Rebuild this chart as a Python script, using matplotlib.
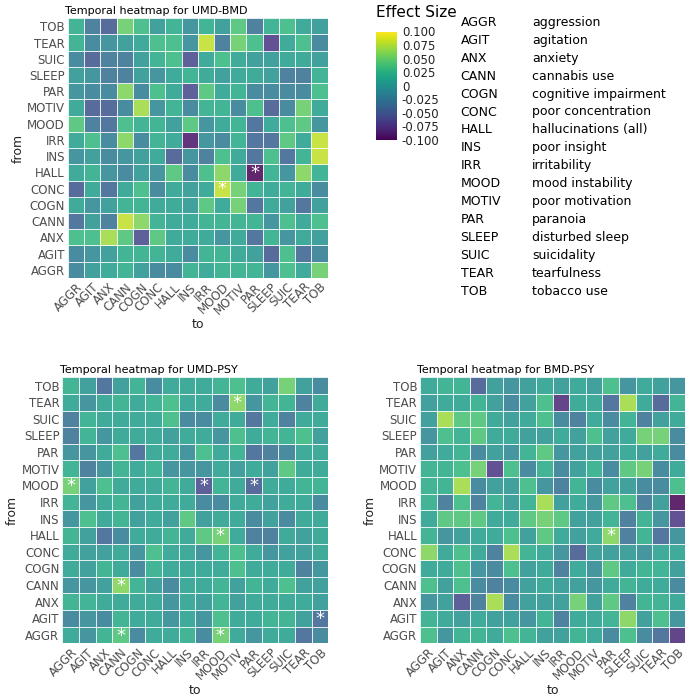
import numpy as np
import matplotlib
matplotlib.use("Agg")
import matplotlib.pyplot as plt
from matplotlib.colors import Normalize

labels = ["AGGR","AGIT","ANX","CANN","COGN","CONC","HALL","INS","IRR","MOOD","MOTIV","PAR","SLEEP","SUIC","TEAR","TOB"]
full_names = ["aggression","agitation","anxiety","cannabis use","cognitive impairment","poor concentration",
              "hallucinations (all)","poor insight","irritability","mood instability","poor motivation",
              "paranoia","disturbed sleep","suicidality","tearfulness","tobacco use"]

# rows listed top (TOB) to bottom (AGGR); columns AGGR..TOB
umd_bmd = [
 [.02,-.03,-.05,.05,.03,0,.02,-.01,.02,0,.04,-.03,.02,.03,.01,0],
 [.02,-.02,-.01,0,.01,.03,.03,-.01,.08,-.03,.05,.03,-.07,.01,.03,-.02],
 [-.02,-.05,-.03,-.03,0,.02,.03,-.06,.01,.03,.01,0,0,.01,.01,0],
 [0,-.01,-.03,-.03,0,-.01,.01,.02,.01,0,.01,.01,0,-.03,-.03,.02],
 [-.01,-.02,-.02,.06,-.02,.03,.01,-.06,.04,.01,.02,-.02,-.02,-.02,-.02,.03],
 [.01,-.05,-.05,-.02,.07,-.01,.02,-.02,.02,.02,-.02,.03,-.05,-.02,.05,.01],
 [.04,-.03,-.04,.03,.02,.02,0,.04,-.01,.01,.02,-.04,.01,.03,.04,-.01],
 [.01,.03,-.02,.06,-.02,.02,.01,-.09,-.01,-.02,.02,-.04,-.04,.04,.01,.08],
 [-.01,0,-.02,-.01,0,.01,-.05,-.01,-.03,.03,.01,-.04,.03,-.04,.02,.08],
 [.01,.02,-.01,-.02,0,-.01,.04,-.02,.03,.06,.01,-.11,.02,-.01,.06,.02],
 [-.05,.01,-.04,.01,.03,-.02,.01,0,.01,.08,.05,.02,.01,.02,.01,-.02],
 [.01,-.01,0,.02,.02,.01,.01,0,.04,.01,.05,-.04,.01,0,-.04,0],
 [-.04,0,-.03,.08,.06,.02,.01,.01,.02,.02,.02,.02,-.01,.03,.01,.03],
 [.03,.03,.07,.04,-.06,.04,.01,.01,.01,-.01,.01,-.04,.02,-.01,.01,0],
 [-.02,-.01,0,.02,.02,.02,.01,-.02,.02,.02,.01,0,-.05,.03,-.04,-.02],
 [-.02,0,.01,.02,0,-.02,-.02,.02,.01,.02,.02,.02,-.01,.03,.01,.05],
]
umd_bmd_sig = [("HALL","PAR"),("CONC","MOOD")]

umd_psy = [
 [.02,0,-.04,0,.02,-.02,.01,.01,.01,.02,.03,.01,0,.05,0,-.02],
 [.01,-.01,.01,.02,.01,.02,.03,.01,.01,-.02,.06,-.01,.02,.02,-.03,.01],
 [-.03,.02,.01,.01,.01,.01,.03,-.02,-.02,.01,.01,-.04,.01,-.03,.01,.01],
 [-.03,.02,-.01,.01,.01,.01,0,.01,.01,-.01,.03,.01,.02,.02,.03,0],
 [-.01,-.01,.01,.03,-.04,.01,.01,-.01,.03,.01,.02,-.04,-.03,-.02,.01,.01],
 [.02,-.03,-.01,.02,.01,.02,-.01,-.01,-.01,.01,0,.01,0,.04,.01,.01],
 [.05,0,.03,.01,.01,.01,.02,.01,-.06,.02,.01,-.05,.01,.01,.02,.02],
 [.02,-.01,.01,.02,0,.01,.01,.01,-.02,-.02,.01,.01,0,.01,.01,-.02],
 [-.01,.03,.01,.02,0,.01,0,.04,0,.01,.01,-.02,0,-.02,.01,.01],
 [.02,0,-.04,-.02,.01,.01,.02,.01,.04,.05,.01,-.03,-.03,.01,0,.01],
 [.01,0,0,.01,-.01,.03,.01,.01,-.01,.02,.03,.01,-.01,0,0,.01],
 [.01,0,.02,.01,-.02,.02,.01,.01,.01,.01,.03,.01,.01,.01,-.03,-.01],
 [-.01,-.01,0,.06,.02,0,-.02,.01,.01,.02,0,.02,.01,.03,0,0],
 [.02,.02,.01,.01,.01,.01,-.01,.01,0,.02,0,.01,.01,.01,.01,0],
 [-.02,-.01,-.02,.02,.01,.01,-.01,.01,-.01,.03,.01,.01,.02,.02,0,-.04],
 [.01,-.01,.02,.04,-.02,.01,.01,.02,-.02,.05,.01,-.01,.01,.01,-.04,-.02],
]
umd_psy_sig = [("TEAR","MOTIV"),("MOOD","AGGR"),("MOOD","IRR"),("MOOD","PAR"),("HALL","MOOD"),
               ("CANN","CANN"),("AGIT","TOB"),("AGGR","CANN"),("AGGR","MOOD")]

bmd_psy = [
 [.01,.02,.02,-.05,0,-.01,0,.01,0,.01,0,.03,-.01,.01,0,-.01],
 [0,.01,.01,.02,0,-.02,0,.03,-.08,.01,.01,-.04,.07,.01,-.05,.02],
 [0,.07,.04,.04,.01,0,.01,.03,-.02,-.03,.01,-.02,.02,-.03,0,.01],
 [-.01,.03,.02,.04,.01,.01,0,0,.01,0,.03,0,.01,.05,.05,-.02],
 [0,.01,.02,-.02,0,-.01,.02,.04,-.01,0,0,0,.01,0,.01,-.02],
 [.02,.02,.03,.05,-.07,.03,-.02,.02,-.02,0,.02,-.02,.04,.05,-.02,.01],
 [.02,.02,.07,-.02,0,0,.03,-.01,-.03,.02,-.02,0,0,-.02,-.02,.03],
 [.02,-.03,.03,-.03,.02,0,.02,.07,0,.01,-.01,.04,.03,-.03,0,-.1],
 [.01,.04,.04,.04,.01,.01,.04,.05,.04,0,0,.02,-.03,.02,-.01,-.07],
 [.02,-.01,0,.01,.01,.03,0,.04,.01,0,.01,.06,-.03,.02,-.04,-.01],
 [.06,.01,.03,.01,-.03,.07,.02,.01,-.01,-.05,0,0,0,-.01,.01,.01],
 [.01,.01,.03,-.01,-.02,.03,0,.01,-.03,.01,-.01,.04,.01,.02,.02,0],
 [.03,0,.03,-.02,-.03,-.02,0,.01,0,0,-.01,.01,.02,.01,.01,-.02],
 [-.01,0,-.06,-.03,.07,-.02,0,0,0,.05,0,.04,-.03,.02,.02,.01],
 [.02,.01,0,.01,0,0,-.01,.02,-.03,.01,.01,.02,.06,0,.03,-.01],
 [.03,-.01,.02,.02,.01,.03,.02,0,0,.02,.01,-.02,.03,-.02,-.04,-.08],
]
bmd_psy_sig = [("HALL","PAR")]

norm = Normalize(-0.1, 0.1)
cmap = plt.get_cmap("viridis")
fig = plt.figure(figsize=(7, 7), dpi=100)

def heat(rect, data, sig, title):
    ax = fig.add_axes(rect)
    arr = np.array(data)[::-1]  # row 0 = AGGR
    n = len(labels)
    ax.pcolormesh(np.arange(n + 1), np.arange(n + 1), arr, cmap=cmap, norm=norm,
                  alpha=0.85, edgecolor=(1, 1, 1, 0.35), linewidth=0.6)
    for fr, to in sig:
        ax.text(labels.index(to) + 0.5, labels.index(fr) + 0.45, "*", color="white",
                ha="center", va="center", fontsize=13)
    ax.set_xlim(0, n); ax.set_ylim(0, n)
    ax.set_xticks(np.arange(n) + 0.5)
    ax.set_xticklabels(labels, rotation=45, ha="right", rotation_mode="anchor")
    ax.set_yticks(np.arange(n) + 0.5)
    ax.set_yticklabels(labels)
    ax.tick_params(length=0, labelsize=8.5, labelcolor="#4d4d4d", pad=2)
    for s in ax.spines.values():
        s.set_visible(False)
    ax.set_xlabel("to", fontsize=9, color="#222222", labelpad=1)
    ax.set_ylabel("from", fontsize=9, color="#222222", labelpad=2)
    ax.set_title(title, fontsize=8, loc="left", pad=3, x=-0.01)
    return ax

heat([0.097, 0.603, 0.371, 0.371], umd_bmd, umd_bmd_sig, "Temporal heatmap for UMD-BMD")
heat([0.089, 0.081, 0.38, 0.38], umd_psy, umd_psy_sig, "Temporal heatmap for UMD-PSY")
heat([0.600, 0.081, 0.379, 0.38], bmd_psy, bmd_psy_sig, "Temporal heatmap for BMD-PSY")

cax = fig.add_axes([0.537, 0.80, 0.030, 0.155])
cb = fig.colorbar(plt.cm.ScalarMappable(norm=norm, cmap=cmap), cax=cax)
cb.set_ticks([0.1, 0.075, 0.05, 0.025, 0, -0.025, -0.05, -0.075, -0.1])
cb.set_ticklabels(["0.100", "0.075", "0.050", "0.025", "0", "-0.025", "-0.050", "-0.075", "-0.100"])
cb.outline.set_visible(False)
cax.tick_params(length=0, labelsize=8.5, labelcolor="#222222")
fig.text(0.537, 0.982, "Effect Size", fontsize=11, va="center")

for i, (a, f) in enumerate(zip(labels, full_names)):
    y = 0.968 - i * 0.0256
    fig.text(0.658, y, a, fontsize=9, va="center")
    fig.text(0.76, y, f, fontsize=9, va="center")

fig.savefig("out.png", dpi=100)
